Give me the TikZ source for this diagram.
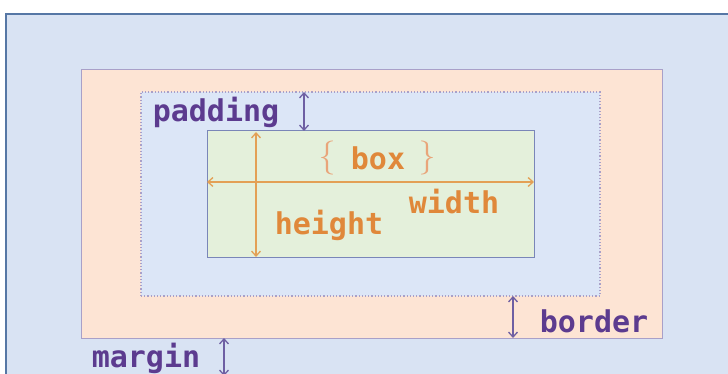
\documentclass[tikz,border=0pt]{standalone}
\usepackage{fontspec}
\newfontfamily\labfont{DejaVu Sans Mono}
\usetikzlibrary{arrows.meta}
\definecolor{bgblue}{HTML}{D9E3F3}
\definecolor{framec}{HTML}{5677A5}
\definecolor{peach}{HTML}{FDE4D4}
\definecolor{padfill}{HTML}{DCE6F7}
\definecolor{contfill}{HTML}{E4F0DB}
\definecolor{boxline}{HTML}{A9A0C8}
\definecolor{contline}{HTML}{7A86B8}
\definecolor{purp}{HTML}{5C3B8F}
\definecolor{purparrow}{HTML}{6E5FA3}
\definecolor{orng}{HTML}{E0883A}
\definecolor{orngarrow}{HTML}{E3A055}
\definecolor{brk}{HTML}{E9A57A}
\tikzset{
  area/.style={draw, inner sep=0pt, outer sep=0pt, anchor=north west},
  plabel/.style={font=\labfont\bfseries\fontsize{30}{30}\selectfont, text=purp, inner sep=0pt},
  olabel/.style={font=\labfont\bfseries\fontsize{30}{30}\selectfont, text=orng, inner sep=0pt},
  parr/.style={purparrow, line width=1.3pt, {Straight Barb[length=5pt,width=9pt]}-{Straight Barb[length=5pt,width=9pt]}},
  oarr/.style={orngarrow, line width=1.3pt, {Straight Barb[length=5pt,width=9pt]}-{Straight Barb[length=5pt,width=9pt]}},
}
\begin{document}
\begin{tikzpicture}[x=1pt,y=-1pt]
\useasboundingbox (0,0) rectangle (728,374);
\fill[white] (0,0) rectangle (728,374);
\fill[bgblue] (6,14) rectangle (728,374);
\draw[framec, line width=2pt] (6,374) -- (6,14) -- (728,14);
% boxes
\node[area, draw=boxline, line width=0.8pt, fill=peach, minimum width=581pt, minimum height=269pt] (border) at (81,69) {};
\node[area, draw=boxline, line width=1.2pt, dotted, fill=padfill, minimum width=459pt, minimum height=204pt] (padding) at (141,92) {};
\node[area, draw=contline, line width=1pt, fill=contfill, minimum width=327pt, minimum height=126pt] (content) at (207,131) {};
% arrow positions
\coordinate (padx) at (304,0);
\coordinate (hx) at (256,0);
\coordinate (wy) at (0,182);
\coordinate (bx) at (513,0);
\coordinate (mx) at (224,0);
\coordinate (bottom) at (224,376);
% arrows
\draw[parr] (padding.north -| padx) -- (content.north -| padx);
\draw[oarr] (content.north -| hx) ++(0,1) -- (content.south -| hx);
\draw[oarr] (content.west |- wy) -- (content.east |- wy);
\draw[parr] (padding.south -| bx) -- (border.south -| bx);
\draw[parr] (border.south -| mx) -- (bottom);
% labels
\node[plabel] (lpad) at (216,112) {padding};
\node[olabel] (lbox) at (378,158) {box};
\node[text=brk, font=\fontsize{34}{34}\selectfont, inner sep=0pt] (lbr) at (327,158) {\{};
\node[text=brk, font=\fontsize{34}{34}\selectfont, inner sep=0pt] (rbr) at (427,158) {\}};
\node[olabel] (lwidth) at (454,202) {width};
\node[olabel] (lheight) at (329,225) {height};
\node[plabel] (lborder) at (594,321) {border};
\node[plabel] (lmargin) at (146,358) {margin};
\end{tikzpicture}
\end{document}
